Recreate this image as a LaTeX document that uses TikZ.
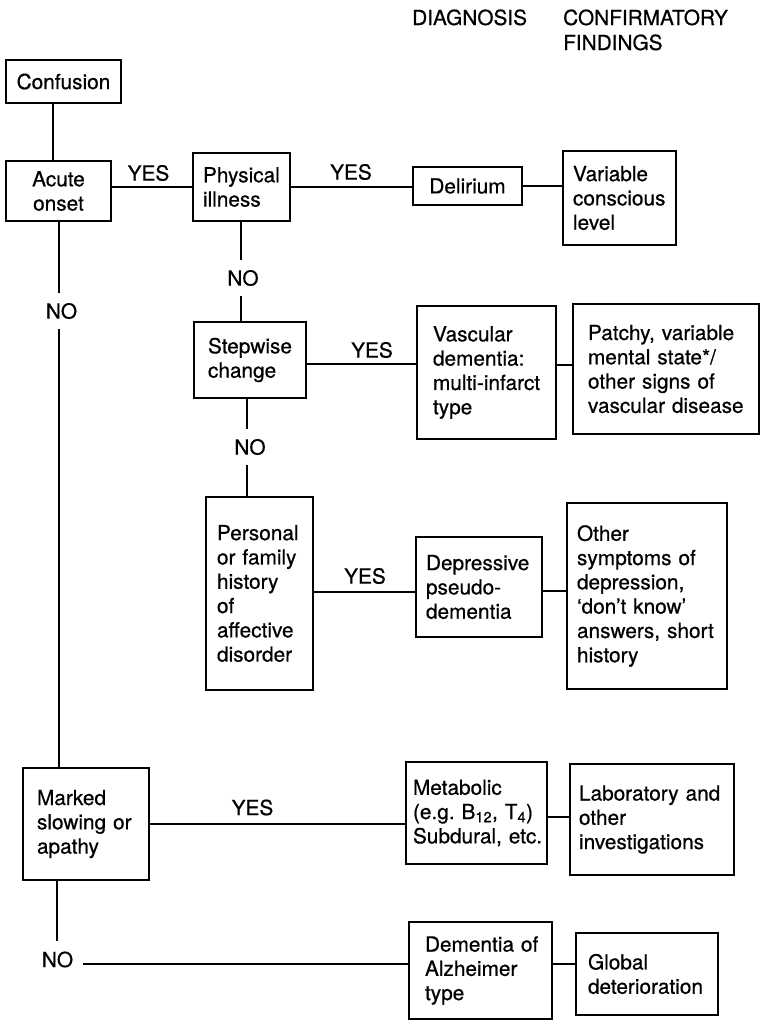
\documentclass[tikz,border=0pt]{standalone}
\usepackage{fontspec}
\setmainfont{TeX Gyre Heros}[FakeBold=0.6]
\hyphenpenalty=10000
\exhyphenpenalty=10000
\newcommand\diagfont{\fontsize{20.8}{24.3}\selectfont}
\newcommand\mybox[8][box]{%
  \pgfmathsetmacro\myW{#5-#3}%
  \pgfmathsetmacro\myH{#6-#4}%
  \pgfmathsetmacro\myT{#5-#3-2*#7}%
  \pgfmathsetmacro\myX{(#3+#5)/2}%
  \pgfmathsetmacro\myY{(#4+#6)/2}%
  \node[#1, minimum width=\myW pt, minimum height=\myH pt, text width=\myT pt, inner xsep=0pt] (#2) at (\myX,\myY) {#8};}
\tikzset{
  box/.style={draw, line width=1.6pt, inner ysep=0pt, align=left, font=\diagfont},
  cbox/.style={box, align=center},
  lbl/.style={inner sep=0pt, font=\diagfont},
  nolbl/.style={inner sep=10pt, font=\diagfont},
  conn/.style={line width=1.6pt},
}
\begin{document}
\begin{tikzpicture}[x=1pt, y=-1pt]
\useasboundingbox (0,0) rectangle (760,1021);
% headers
\node[lbl, anchor=base west] (hdiag) at (412,25) {DIAGNOSIS};
\node[lbl, anchor=base west] (hconf) at (563,25) {CONFIRMATORY};
\node[lbl, anchor=base west] (hfind) at (563,50) {FINDINGS};
% boxes
\mybox[cbox]{conf}{6}{60}{121}{103}{8}{Confusion}
\mybox[cbox]{acute}{6}{161}{111}{221}{8}{Acute\\onset}
\mybox{phys}{193}{153}{290}{221}{10}{Physical\\illness}
\mybox[cbox]{del}{413}{167}{522}{205}{8}{Delirium}
\mybox{var}{563}{151}{676}{245}{10}{Variable\\conscious\\level}
\mybox{step}{194}{322}{306}{398}{14}{Stepwise\\change}
\mybox{vasc}{417}{306}{556}{439}{16}{Vascular\\dementia:\\multi-infarct\\type}
\mybox{patchy}{573}{304}{759}{434}{15}{Patchy,~variable\\mental~state*/\\other~signs~of\\vascular~disease}
\mybox{pers}{206}{497}{313}{690}{11}{Personal\\or~family\\history\\of\\affective\\disorder}
\mybox{dep}{416}{537}{542}{637}{10}{Depressive\\pseudo-\\dementia}
\mybox{other}{567}{503}{727}{689}{10}{Other\\symptoms~of\\depression,\\‘don’t~know’\\answers,~short\\history}
\mybox{marked}{23}{768}{149}{880}{14}{Marked\\slowing~or\\apathy}
\mybox{met}{406}{762}{547}{864}{7}{Metabolic\\(e.g.~B\textsubscript{12},~T\textsubscript{4})\\Subdural,~etc.}
\mybox{lab}{570}{764}{734}{875}{9}{Laboratory~and\\other\\investigations}
\mybox{dem}{409}{922}{552}{1019}{16}{Dementia~of\\Alzheimer\\type}
\mybox{glob}{576}{933}{718}{1015}{12}{Global\\deterioration}
% labels
\node[lbl] (yes1) at (148.5,173) {YES};
\node[lbl] (yes2) at (351,172) {YES};
\node[lbl] (yes3) at (372,350) {YES};
\node[lbl] (yes4) at (365,576) {YES};
\node[lbl] (yes5) at (252.5,807.5) {YES};
\node[nolbl] (no1) at (61.5,311) {NO};
\node[nolbl] (no2) at (243,278) {NO};
\node[nolbl] (no3) at (250,447) {NO};
\node[nolbl] (no4) at (57.5,959.5) {NO};
% connector guides
\coordinate (c1) at (53,0);
\coordinate (c2) at (241,0);
\coordinate (c3) at (247,0);
\coordinate (c4) at (59,0);
\coordinate (c5) at (57,0);
\coordinate (r1) at (0,187);
\coordinate (r3) at (0,186);
\coordinate (r4) at (0,364);
\coordinate (r5) at (0,365);
\coordinate (r6) at (0,592);
\coordinate (r7) at (0,591);
\coordinate (r8) at (0,824);
\coordinate (r9) at (0,817);
\coordinate (r10) at (0,964);
% connectors
\draw[conn] (conf.south -| c1) -- (acute.north -| c1);
\draw[conn] (acute.east |- r1) -- (phys.west |- r1);
\draw[conn] (phys.east |- r1) -- (del.west |- r1);
\draw[conn] (del.east |- r3) -- (var.west |- r3);
\draw[conn] (phys.south -| c2) -- (no2.north -| c2);
\draw[conn] (no2.south -| c2) -- (step.north -| c2);
\draw[conn] (step.east |- r4) -- (vasc.west |- r4);
\draw[conn] (vasc.east |- r5) -- (patchy.west |- r5);
\draw[conn] (step.south -| c3) -- (no3.north -| c3);
\draw[conn] (no3.south -| c3) -- (pers.north -| c3);
\draw[conn] (pers.east |- r6) -- (dep.west |- r6);
\draw[conn] (dep.east |- r7) -- (other.west |- r7);
\draw[conn] (acute.south -| c4) -- (no1.north -| c4);
\draw[conn] (no1.south -| c4) -- (marked.north -| c4);
\draw[conn] (marked.east |- r8) -- (met.west |- r8);
\draw[conn] (met.east |- r9) -- (lab.west |- r9);
\draw[conn] (marked.south -| c5) -- (no4.north -| c5);
\draw[conn] (no4.east |- r10) -- (dem.west |- r10);
\draw[conn] (dem.east |- r10) -- (glob.west |- r10);
\end{tikzpicture}
\end{document}
